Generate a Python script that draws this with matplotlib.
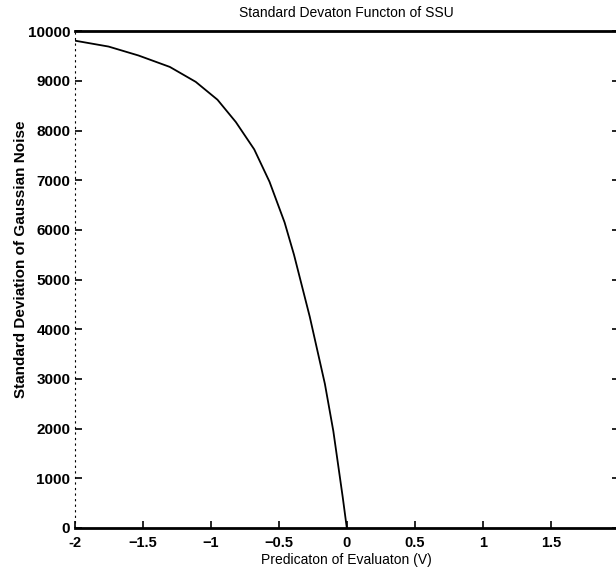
import matplotlib.pyplot as plt
import numpy as np

plt.rcParams['font.family'] = ['Liberation Sans', 'DejaVu Sans']

# points
v_pred = [-2.0, -1.75, -1.53, -1.3, -1.11, -0.95, -0.815, -0.68, -0.568,
          -0.457, -0.388, -0.272, -0.161, -0.099, -0.03, 0.0]
sigma = [9810, 9690, 9510, 9280, 8980, 8620, 8170, 7620, 6970,
         6150, 5500, 4250, 2900, 1950, 620, 0]

xticks = [-2, -1.5, -1, -0.5, 0, 0.5, 1, 1.5, 2]
xticklabels = ['-2', '\u22121.5', '\u22121', '\u22120.5', '0', '0.5', '1', '1.5', '2']
yticks = [0, 1000, 2000, 3000, 4000, 5000, 6000, 7000, 8000, 9000, 10000]

fig = plt.figure(figsize=(6.16, 5.77), dpi=100)
ax = fig.add_axes([0.121, 0.085, 0.884, 0.861])

ax.plot(v_pred, sigma, color='black', lw=1.3)

ax.set_xlim(-2, 2)
ax.set_ylim(0, 10000)
ax.set_xticks(xticks)
ax.set_xticklabels(xticklabels)
ax.set_yticks(yticks)

ax.tick_params(direction='in', length=5, width=1.2, top=False, right=True)
ax.tick_params(axis='x', labelsize=10.5, pad=6)
ax.tick_params(axis='y', labelsize=11, pad=3)
for lab in ax.get_xticklabels() + ax.get_yticklabels():
    lab.set_fontweight('bold')

ax.spines['top'].set_linewidth(2.0)
ax.spines['bottom'].set_linewidth(2.0)
ax.spines['left'].set_linewidth(0.8)
ax.spines['left'].set_linestyle((0, (1, 4)))
ax.spines['right'].set_visible(False)

ax.set_title('Standard Devaton Functon of SSU', fontsize=10, pad=10)
ax.set_xlabel('Predicaton of Evaluaton (V)', fontsize=10, labelpad=2)
ax.set_ylabel('Standard Deviation of Gaussian Noise', fontsize=11, fontweight='bold')
ax.yaxis.set_label_coords(-0.085, 0.54)

fig.savefig('out.png', dpi=100)
